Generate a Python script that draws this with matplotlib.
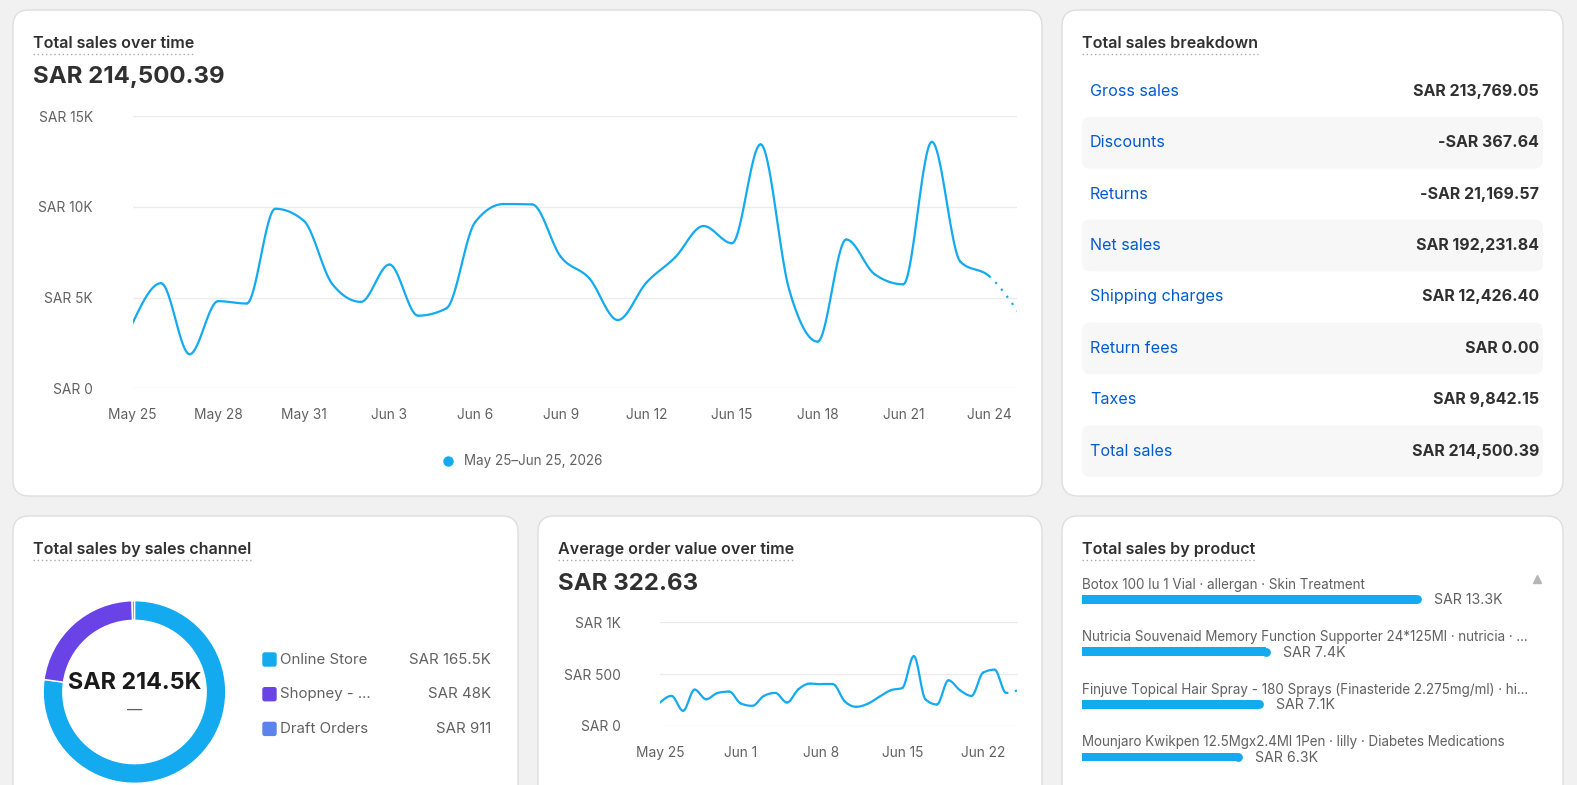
import numpy as np
import matplotlib.pyplot as plt
from matplotlib.patches import FancyBboxPatch

plt.rcParams['font.family'] = ['Inter', 'DejaVu Sans']

W, H = 1577, 785
DARK = '#303030'
GRAY = '#616161'
BLUE = '#13aaf0'
LINK = '#005bd3'

# daily total sales, May 25 - Jun 25 (SAR)
sales = [3580, 5790, 1875, 4800, 4670, 9890, 9230, 5740, 4760, 6820, 4000,
         4410, 9150, 10150, 10130, 7250, 6060, 3760, 5820, 7200, 8940, 7990,
         13440, 5450, 2570, 8200, 6280, 5730, 13580, 6970, 6190, 4260]
sales_xticks = ['May 25', 'May 28', 'May 31', 'Jun 3', 'Jun 6', 'Jun 9',
                'Jun 12', 'Jun 15', 'Jun 18', 'Jun 21', 'Jun 24']
sales_yticks = [0, 5000, 10000, 15000]
sales_ylabels = ['SAR 0', 'SAR 5K', 'SAR 10K', 'SAR 15K']

# daily average order value (SAR)
aov = [224, 288, 144, 349, 256, 317, 330, 215, 192, 288, 317, 224, 353, 407,
       401, 401, 237, 183, 212, 279, 343, 365, 673, 256, 205, 439, 343, 288,
       513, 542, 317, 343]
aov_xticks = ['May 25', 'Jun 1', 'Jun 8', 'Jun 15', 'Jun 22']
aov_yticks = [0, 500, 1000]
aov_ylabels = ['SAR 0', 'SAR 500', 'SAR 1K']

breakdown_labels = ['Gross sales', 'Discounts', 'Returns', 'Net sales',
                    'Shipping charges', 'Return fees', 'Taxes', 'Total sales']
breakdown_values = ['SAR 213,769.05', '-SAR 367.64', '-SAR 21,169.57',
                    'SAR 192,231.84', 'SAR 12,426.40', 'SAR 0.00',
                    'SAR 9,842.15', 'SAR 214,500.39']

channels = ['Online Store', 'Shopney - ...', 'Draft Orders']
channel_sales = [165500, 48000, 911]
channel_labels = ['SAR 165.5K', 'SAR 48K', 'SAR 911']
channel_colors = ['#13aaf0', '#6a43e6', '#5b83ec']

products = ['Botox 100 Iu 1 Vial \u00b7 allergan \u00b7 Skin Treatment',
            'Nutricia Souvenaid Memory Function Supporter 24*125Ml \u00b7 nutricia \u00b7 ...',
            'Finjuve Topical Hair Spray - 180 Sprays (Finasteride 2.275mg/ml) \u00b7 hi...',
            'Mounjaro Kwikpen 12.5Mgx2.4Ml 1Pen \u00b7 lilly \u00b7 Diabetes Medications']
product_sales = [13.3, 7.4, 7.1, 6.3]
product_labels = ['SAR 13.3K', 'SAR 7.4K', 'SAR 7.1K', 'SAR 6.3K']


def monotone(ys, n=24):
    # d3 curveMonotoneX style smoothing between daily points
    ys = np.asarray(ys, float)
    s = np.diff(ys)
    m = np.zeros_like(ys)
    for k in range(1, len(ys) - 1):
        a, b = s[k - 1], s[k]
        if a * b > 0:
            p = (a + b) / 2
            m[k] = 2 * np.sign(a) * min(abs(a), abs(b), 0.5 * abs(p))
    m[0] = (3 * s[0] - m[1]) / 2
    m[-1] = (3 * s[-1] - m[-2]) / 2
    segs = []
    t = np.linspace(0, 1, n)
    for k in range(len(ys) - 1):
        h00 = 2 * t**3 - 3 * t**2 + 1
        h10 = t**3 - 2 * t**2 + t
        h01 = -2 * t**3 + 3 * t**2
        h11 = t**3 - t**2
        segs.append((k + t, h00 * ys[k] + h10 * m[k] + h01 * ys[k + 1] + h11 * m[k + 1]))
    return segs


def px_axes(left, top, right, bottom):
    return fig.add_axes([left / W, 1 - bottom / H, (right - left) / W, (bottom - top) / H])


fig = plt.figure(figsize=(W / 100, H / 100), dpi=100, facecolor='#f1f1f1')
bg = fig.add_axes([0, 0, 1, 1])
bg.set_xlim(0, W)
bg.set_ylim(H, 0)
bg.axis('off')
renderer = fig.canvas.get_renderer()

# cards
for x0, y0, x1, y1 in [(13, 10, 1042, 496), (1062, 10, 1563, 496),
                       (13, 516, 518, 820), (538, 516, 1042, 820),
                       (1062, 516, 1563, 820)]:
    bg.add_patch(FancyBboxPatch((x0, y0), x1 - x0, y1 - y0,
                                boxstyle='round,pad=0,rounding_size=16',
                                fc='white', ec='#dedede', lw=1))


def title(x, y, s):
    t = bg.text(x, y, s, fontsize=11.6, fontweight='semibold', color=DARK, va='center')
    bb = t.get_window_extent(renderer)
    bg.plot([x, bb.x1], [y + 10, y + 10], ls=(0, (1, 2)), color='#a8a8a8', lw=1)


title(33, 44, 'Total sales over time')
bg.text(33, 77.5, 'SAR 214,500.39', fontsize=17.3, fontweight='bold', color=DARK, va='center')
title(1082, 44, 'Total sales breakdown')
title(33, 549.5, 'Total sales by sales channel')
title(558, 549.5, 'Average order value over time')
bg.text(558, 583.5, 'SAR 322.63', fontsize=17.3, fontweight='bold', color=DARK, va='center')
title(1082, 549.5, 'Total sales by product')


def line_chart(ax, values, xticks, step, yticks, ylabels, ymax):
    segs = monotone(values)
    for k, (sx, sy) in enumerate(segs):
        if k < len(segs) - 1:
            ax.plot(sx, sy, color=BLUE, lw=1.6, solid_capstyle='round')
        else:
            ax.plot(sx, sy, color=BLUE, lw=1.6, ls=(0, (1, 3)))
    ax.set_xlim(0, len(values) - 1)
    ax.set_ylim(0, ymax)
    ax.set_facecolor('none')
    for sp in ax.spines.values():
        sp.set_visible(False)
    ax.set_yticks(yticks, ylabels)
    ax.set_xticks(range(0, len(values), step)[:len(xticks)], xticks)
    ax.grid(axis='y', color='#ebebeb', lw=1)
    ax.tick_params(length=0, labelsize=9.9, labelcolor=GRAY)
    ax.tick_params(axis='y', pad=28.5)
    ax.tick_params(axis='x', pad=14.5)
    ax.set_axisbelow(True)


ax1 = px_axes(132.5, 116, 1017.5, 388.3)
line_chart(ax1, sales, sales_xticks, 3, sales_yticks, sales_ylabels, 15000)
bg.plot(447.7, 461, 'o', color=BLUE, ms=6.5)
bg.text(464, 461, 'May 25\u2013Jun 25, 2026', fontsize=9.7, color=GRAY, va='center')

ax2 = px_axes(660, 622.3, 1017.7, 725.7)
line_chart(ax2, aov, aov_xticks, 7, aov_yticks, aov_ylabels, 1000)

# breakdown table
for i, (lab, val) in enumerate(zip(breakdown_labels, breakdown_values)):
    yc = 91.3 + 51.4 * i
    if i % 2 == 1:
        bg.add_patch(FancyBboxPatch((1082, yc - 25.8), 461, 51.6,
                                    boxstyle='round,pad=0,rounding_size=8',
                                    fc='#f7f7f7', ec='none'))
    bg.text(1090, yc, lab, fontsize=11.6, color=LINK, va='center')
    bg.text(1539, yc, val, fontsize=11.5, fontweight='bold', color=DARK,
            va='center', ha='right')

# donut
r = 91.3
ax3 = px_axes(134.5 - r, 692 - r, 134.5 + r, 692 + r)
ax3.pie(channel_sales, colors=channel_colors, startangle=90, counterclock=False,
        radius=1, wedgeprops=dict(width=0.215, edgecolor='white', linewidth=1.0))
ax3.set_xlim(-1, 1)
ax3.set_ylim(-1, 1)
ax3.text(0, 0.1, 'SAR 214.5K', fontsize=16.8, fontweight='bold', color='#1a1a1a',
         ha='center', va='center')
ax3.text(0, -0.2, '\u2014', fontsize=11, color=GRAY, ha='center', va='center')

for i, (ch, lab, col) in enumerate(zip(channels, channel_labels, channel_colors)):
    yc = 659.5 + 34.7 * i
    bg.add_patch(FancyBboxPatch((262.3, yc - 7.2), 14.4, 14.4,
                                boxstyle='round,pad=0,rounding_size=2.5',
                                fc=col, ec='none'))
    bg.text(280.5, yc, ch, fontsize=10.8, color=GRAY, va='center')
    bg.text(491, yc, lab, fontsize=10.8, color=GRAY, va='center', ha='right')

# product bars
ax4 = px_axes(1082, 573, 1555, 783)
ax4.set_xlim(0, 473 / 25.5)
ax4.set_ylim(3.494, -0.5)
ax4.axis('off')
cap = 4.4 / 25.5
ax4.barh(range(len(product_sales)), [v - cap for v in product_sales],
         height=0.168, color=BLUE)
ax4.scatter([v - cap for v in product_sales], range(len(product_sales)),
            s=40, color=BLUE, lw=0)
for i, (name, v, lab) in enumerate(zip(products, product_sales, product_labels)):
    ax4.text(0, i - 0.28, name, fontsize=9.7, color=GRAY, va='center')
    ax4.text(v + 0.5, i + 0.02, lab, fontsize=10.2, color=GRAY, va='center')
bg.plot(1536.7, 578.5, '^', color='#b5b5b5', ms=5.5)

fig.savefig('out.png', dpi=100, facecolor=fig.get_facecolor())
